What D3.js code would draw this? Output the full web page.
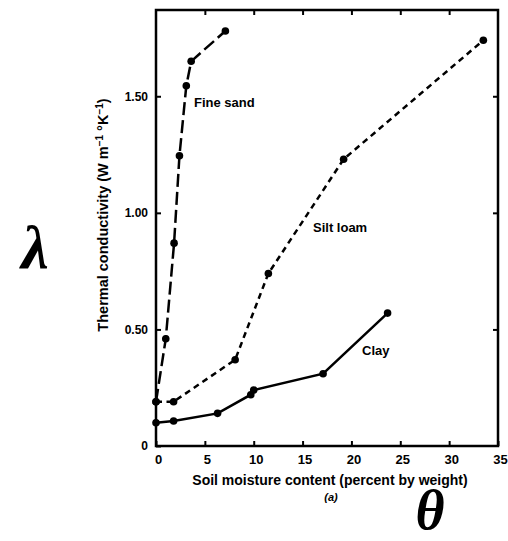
<!DOCTYPE html>
<html><head><meta charset="utf-8">
<script src="https://cdn.jsdelivr.net/npm/d3@7"></script>
<style>body{margin:0;background:#fff;} svg{display:block;}</style>
</head><body>
<svg id="c" width="508" height="541"></svg>
<script>
const fineSandX = [0, 1.0, 1.85, 2.4, 3.1, 3.6, 7.1];
const fineSandY = [0.19, 0.46, 0.87, 1.245, 1.545, 1.65, 1.78];
const siltLoamX = [0, 1.8, 8.1, 11.5, 19.2, 33.5];
const siltLoamY = [0.19, 0.19, 0.37, 0.74, 1.23, 1.74];
const clayX = [0, 1.8, 6.3, 9.7, 10.0, 17.1, 23.7];
const clayY = [0.10, 0.107, 0.14, 0.22, 0.24, 0.31, 0.57];
const xTicks = [0, 5, 10, 15, 20, 25, 30, 35];
const yTicks = [0, 0.5, 1.0, 1.5];
const yTickLabels = ["0", "0.50", "1.00", "1.50"];

const svg = d3.select("#c");
const L = 156, R = 498, T = 10, B = 446;
const x = d3.scaleLinear().domain([0, 35]).range([L, R]);
const y = d3.scaleLinear().domain([0, 1.87]).range([B, T]);

const font = "'Liberation Sans', Arial, sans-serif";

// frame
svg.append("rect").attr("x", L).attr("y", T).attr("width", R - L).attr("height", B - T)
  .attr("fill", "none").attr("stroke", "#000").attr("stroke-width", 2.5);

// axes with inward ticks
const gBottom = svg.append("g").attr("transform", `translate(0,${B})`)
  .call(d3.axisBottom(x).tickValues(xTicks).tickSizeInner(-5).tickSizeOuter(0).tickPadding(9));
const gTop = svg.append("g").attr("transform", `translate(0,${T})`)
  .call(d3.axisTop(x).tickValues(xTicks.slice(1, -1)).tickSizeInner(-5).tickSizeOuter(0).tickFormat(""));
const gLeft = svg.append("g").attr("transform", `translate(${L},0)`)
  .call(d3.axisLeft(y).tickValues(yTicks).tickSizeInner(-5).tickSizeOuter(0).tickPadding(8)
    .tickFormat((d, i) => yTickLabels[i]));
const gRight = svg.append("g").attr("transform", `translate(${R},0)`)
  .call(d3.axisRight(y).tickValues(yTicks.slice(1)).tickSizeInner(-5).tickSizeOuter(0).tickFormat(""));
[gBottom, gTop, gLeft, gRight].forEach(g => {
  g.select(".domain").remove();
  g.selectAll(".tick line").attr("stroke", "#000").attr("stroke-width", 2);
  g.selectAll(".tick text").attr("fill", "#000").attr("font-family", font)
    .attr("font-weight", "bold").attr("font-size", 12);
});
gBottom.selectAll(".tick text").attr("dx", 2).attr("font-size", 13);

// series
const line = d3.line().x(d => x(d[0])).y(d => y(d[1]));
const series = [
  {xs: fineSandX, ys: fineSandY, dash: "13,5"},
  {xs: siltLoamX, ys: siltLoamY, dash: "6,4.5"},
  {xs: clayX, ys: clayY, dash: null}
];
series.forEach(s => {
  const pts = s.xs.map((v, i) => [v, s.ys[i]]);
  svg.append("path").datum(pts).attr("d", line).attr("fill", "none")
    .attr("stroke", "#000").attr("stroke-width", 2.5)
    .attr("stroke-dasharray", s.dash);
  svg.selectAll(null).data(pts).enter().append("circle")
    .attr("cx", d => x(d[0])).attr("cy", d => y(d[1])).attr("r", 3.8).attr("fill", "#000");
});

// series labels
function lbl(px, py, t) {
  svg.append("text").attr("x", px).attr("y", py).attr("font-family", font)
    .attr("font-weight", "bold").attr("font-size", 13).text(t);
}
lbl(194, 107, "Fine sand");
lbl(313, 232, "Silt loam");
lbl(362, 355, "Clay");

// axis titles
svg.append("text").attr("x", 330).attr("y", 485).attr("text-anchor", "middle")
  .attr("font-family", font).attr("font-weight", "bold").attr("font-size", 14)
  .text("Soil moisture content (percent by weight)");
svg.append("text").attr("x", 331).attr("y", 501).attr("text-anchor", "middle")
  .attr("font-family", font).attr("font-weight", "bold").attr("font-style", "italic").attr("font-size", 11)
  .text("(a)");

const yt = svg.append("text").attr("transform", "translate(108,215) rotate(-90)")
  .attr("text-anchor", "middle").attr("font-family", font).attr("font-weight", "bold").attr("font-size", 14.5);
yt.append("tspan").text("Thermal conductivity (W m");
yt.append("tspan").attr("dy", -5).attr("font-size", 10).text("−1");
yt.append("tspan").attr("dy", 5).text(" °K");
yt.append("tspan").attr("dy", -5).attr("font-size", 10).text("−1");
yt.append("tspan").attr("dy", 5).text(")");

// big symbols
svg.append("text").attr("x", 35).attr("y", 268).attr("text-anchor", "middle")
  .attr("font-family", "'Liberation Serif', 'Times New Roman', serif").attr("font-weight", "bold")
  .attr("font-style", "italic").attr("font-size", 62).text("λ");
svg.append("text").attr("x", 430).attr("y", 529).attr("text-anchor", "middle")
  .attr("font-family", "'Liberation Serif', 'Times New Roman', serif").attr("font-weight", "bold")
  .attr("font-style", "italic").attr("font-size", 56).text("θ");
</script>
</body></html>
